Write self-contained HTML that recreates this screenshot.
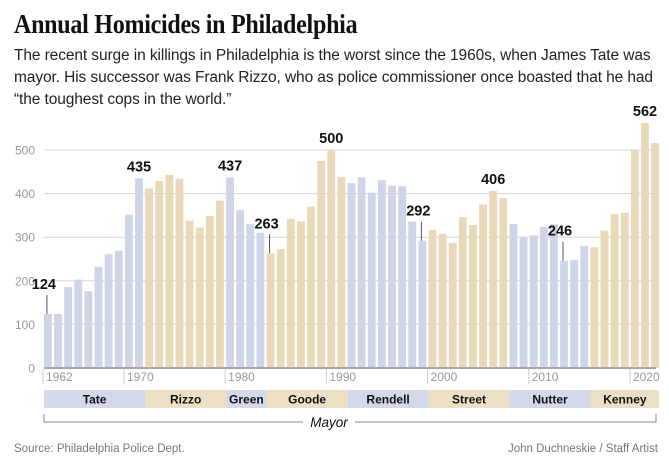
<!DOCTYPE html>
<html><head><meta charset="utf-8"><style>
body{margin:0;background:#fff;width:669px;height:473px;overflow:hidden;font-family:"Liberation Sans",sans-serif}
#title{position:absolute;left:14px;top:9px;font-family:"Liberation Serif",serif;font-weight:bold;font-size:27px;color:#111;transform:scaleX(0.89);transform-origin:left;white-space:nowrap;letter-spacing:-0.3px}
#sub{position:absolute;left:14px;top:45px;width:660px;font-size:15.5px;line-height:22px;color:#222;letter-spacing:-0.1px;white-space:nowrap}
svg{position:absolute;left:0;top:0}
</style></head><body>
<div id="title">Annual Homicides in Philadelphia</div>
<div id="sub">The recent surge in killings in Philadelphia is the worst since the 1960s, when James Tate was<br>mayor. His successor was Frank Rizzo, who as police commissioner once boasted that he had<br>“the toughest cops in the world.”</div>
<svg id="chart" width="669" height="473"></svg>
<script>
const years=[];for(let y=1962;y<=2022;y++)years.push(y);
const values=[124,124,186,203,176,232,261,269,352,435,412,429,443,434,338,322,349,384,437,362,330,310,263,273,342,336,370,475,500,438,424,437,402,431,418,417,336,292,317,307,287,346,328,375,406,390,330,301,304,324,330,246,248,280,277,315,353,356,499,562,516];
const mayors=["Tate","Rizzo","Green","Goode","Rendell","Street","Nutter","Kenney"];
const mayorStart=[1962,1972,1980,1984,1992,2000,2008,2016];
const mayorEnd=[1971,1979,1983,1991,1999,2007,2015,2022];
const yTicks=[0,100,200,300,400,500];
const xTicks=[1962,1970,1980,1990,2000,2010,2020];
const labelYears=[1962,1971,1980,1984,1990,1999,2006,2013,2021];
const leaderYears=[1962,1984,1999,2013];
const NS="http://www.w3.org/2000/svg",svg=document.getElementById('chart');
const x=y=>44+(y-1962)*10.12, yS=v=>368-v*0.436, BW=7.8;
function el(t,a,p){const e=document.createElementNS(NS,t);for(const k in a)e.setAttribute(k,a[k]);(p||svg).appendChild(e);return e;}
const colorOf=y=>{const i=mayorStart.findIndex((s,k)=>y>=s&&y<=mayorEnd[k]);return i%2==0?'#cfd5e8':'#ead9b9';};
yTicks.forEach(v=>{
 const g=el('line',{x1:44,x2:656,y1:yS(v),y2:yS(v),stroke:v==0?'#999':'#d6d6d6','stroke-width':v==0?1.5:1});
 
 
 const t=el('text',{x:35,y:yS(v)+4.5,'text-anchor':'end','font-size':12,fill:'#999'});t.textContent=v;
 
 
});
years.forEach((yr,i)=>{
 const r=el('rect',{x:x(yr),y:yS(values[i]),width:BW,height:values[i]*0.436,fill:colorOf(yr)});
 
 
});
el('line',{x1:44,x2:656,y1:368,y2:368,stroke:'#999','stroke-width':1.5});
xTicks.forEach(yr=>{
 const xx=x(yr)-1;
 el('line',{x1:xx,x2:xx,y1:369,y2:384,stroke:'#ccc'});
 const t=el('text',{x:xx+3,y:381,'font-size':12,fill:'#999'});t.textContent=yr;
 
 
});
labelYears.forEach(yr=>{
 const i=yr-1962,v=values[i],cx=x(yr)+BW/2;
 const lead=leaderYears.includes(yr);
 const ty=lead?yS(v)-25:yS(v)-7;
 if(lead)el('line',{x1:cx-1,x2:cx-1,y1:ty+6,y2:yS(v),stroke:'#555'});
 const t=el('text',{x:lead?cx-4:cx,y:ty,'text-anchor':'middle','font-size':14.5,'font-weight':'bold',fill:'#111'});t.textContent=v;
 
 
});
mayors.forEach((m,i)=>{
 const x0=x(mayorStart[i]),x1=x(mayorEnd[i]+1)-(i==7?2:0);
 const r=el('rect',{x:x0,y:390,width:x1-x0,height:18,fill:i%2==0?'#d3d9eb':'#ecdfc4'});
 
 
 const t=el('text',{x:(x0+x1)/2,y:403.5,'text-anchor':'middle','font-size':12,'font-weight':'bold',fill:'#111'});t.textContent=m;
 
 
});
el('path',{d:'M44,414 V422 H303 M355,422 H656 V414',fill:'none',stroke:'#888'});
const mt=el('text',{x:329,y:427,'text-anchor':'middle','font-size':13.5,'font-style':'italic',fill:'#111'});mt.textContent='Mayor';


const s=el('text',{x:14,y:452,'font-size':11.5,fill:'#777'});s.textContent='Source: Philadelphia Police Dept.';


const c=el('text',{x:658,y:452,'text-anchor':'end','font-size':11.5,fill:'#777'});c.textContent='John Duchneskie / Staff Artist';


</script>
</body></html>
